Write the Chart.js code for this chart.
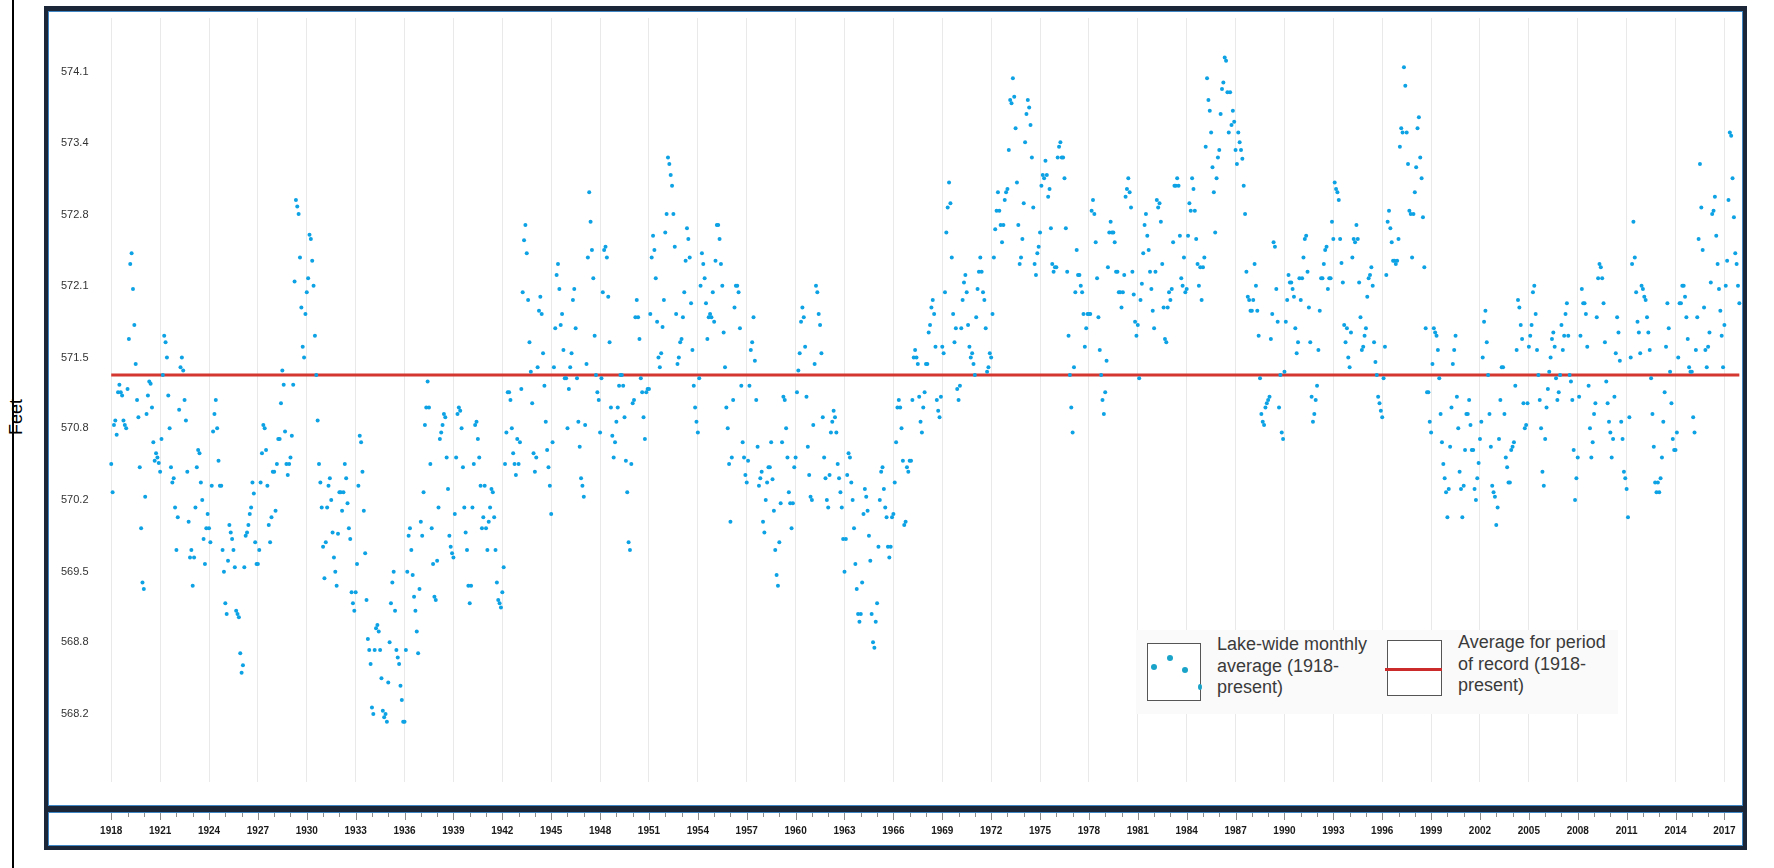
<!DOCTYPE html>
<html lang="en">
<head>
    <meta charset="UTF-8">
    <title>Lake Erie water levels</title>
    <script src="https://cdn.jsdelivr.net/npm/chart.js"></script>
    <style>
        body { margin: 0; width: 1774px; height: 868px; background: #fff; overflow: hidden; position: relative; font-family: Arial, "Liberation Sans", sans-serif; }
        #axisLine { position: absolute; left: 12px; top: 0; width: 2px; height: 868px; background: #000; }
        #yTitle { position: absolute; left: -9px; top: 406px; width: 50px; height: 22px; line-height: 22px; text-align: center; font-size: 18px; color: #000; transform: rotate(-90deg); }
        #chartBox { position: absolute; left: 44px; top: 6px; }
        #legend { position: absolute; left: 1136px; top: 630px; width: 482px; height: 84px; background: #fafafa; }
        .lgBox { position: absolute; box-sizing: border-box; border: 1.5px solid #555; background: #fff; }
        .lgDot { position: absolute; width: 6px; height: 6px; border-radius: 50%; background: #1aa3c9; }
        .lgText { position: absolute; font-size: 18px; line-height: 21.5px; color: #3a3a3a; white-space: nowrap; }
    </style>
</head>
<body>
    <div id="axisLine"></div>
    <div id="yTitle">Feet</div>
    <div id="chartBox"><canvas id="levelChart" width="1703" height="844"></canvas></div>

    <div id="legend"></div>
    <div class="lgBox" style="left:1147px; top:643px; width:54px; height:58px;"></div>
    <div class="lgDot" style="left:1151px; top:664px;"></div>
    <div class="lgDot" style="left:1167px; top:655px;"></div>
    <div class="lgDot" style="left:1182px; top:667px;"></div>
    <div class="lgDot" style="left:1198px; top:684px; width:4px;"></div>
    <div class="lgText" style="left:1217px; top:634px;">Lake-wide monthly<br>average (1918-<br>present)</div>
    <div class="lgBox" style="left:1387px; top:640px; width:55px; height:56px;"></div>
    <div style="position:absolute; left:1385px; top:668px; width:57px; height:3px; background:#cc2b2b;"></div>
    <div class="lgText" style="left:1458px; top:632px;">Average for period<br>of record (1918-<br>present)</div>

    <script>
        // monthly lake-wide levels in feet, one row per year, Jan..Dec
        const firstYear = 1918;
        const lastYear = 2017;
        const monthlyLevels = [
            570.54, 570.28, 570.90, 570.94, 570.81, 571.20, 571.27, 571.20, 571.17, 570.94, 570.90, 570.87, // 1918
            571.23, 571.69, 572.38, 572.48, 572.15, 571.82, 571.46, 571.13, 570.97, 570.51, 569.95, 569.45, // 1919
            569.39, 570.24, 571.00, 571.17, 571.30, 571.28, 571.06, 570.74, 570.57, 570.64, 570.60, 570.55, // 1920
            570.47, 570.77, 571.36, 571.72, 571.66, 571.52, 571.17, 570.87, 570.51, 570.37, 570.41, 570.14, // 1921
            569.75, 570.05, 571.04, 571.43, 571.52, 571.40, 571.13, 570.94, 570.47, 570.01, 569.68, 569.75, // 1922
            569.42, 569.68, 570.14, 570.51, 570.67, 570.64, 570.37, 570.21, 569.85, 569.62, 569.95, 570.08, // 1923
            569.95, 569.82, 570.34, 570.84, 571.00, 571.13, 570.87, 570.57, 570.34, 570.34, 569.75, 569.55, // 1924
            569.26, 569.16, 569.65, 569.98, 569.91, 569.85, 569.75, 569.59, 569.19, 569.16, 569.13, 568.80, // 1925
            568.62, 568.69, 569.59, 569.88, 569.91, 569.98, 570.08, 570.14, 570.37, 570.27, 569.82, 569.62, // 1926
            569.62, 569.75, 570.37, 570.64, 570.90, 570.87, 570.67, 570.34, 569.98, 569.82, 570.05, 570.47, // 1927
            570.47, 570.11, 570.54, 570.77, 570.77, 571.10, 571.40, 571.27, 570.84, 570.54, 570.44, 570.54, // 1928
            570.60, 570.80, 571.27, 572.22, 572.97, 572.91, 572.84, 572.44, 571.98, 571.62, 571.52, 571.92, // 1929
            572.12, 572.25, 572.65, 572.61, 572.41, 572.18, 571.72, 571.36, 570.94, 570.54, 570.37, 570.14, // 1930
            569.78, 569.49, 569.82, 570.14, 570.34, 570.41, 570.21, 569.91, 569.68, 569.55, 569.42, 569.90, // 1931
            570.28, 570.28, 570.11, 570.28, 570.54, 570.41, 570.18, 569.95, 569.85, 569.36, 569.26, 569.19, // 1932
            569.36, 569.62, 570.34, 570.80, 570.74, 570.47, 570.11, 569.72, 569.29, 568.93, 568.83, 568.70, // 1933
            568.30, 568.24, 568.83, 569.03, 569.06, 569.00, 568.83, 568.57, 568.27, 568.21, 568.24, 568.17, // 1934
            568.53, 568.90, 569.26, 569.45, 569.55, 569.19, 568.83, 568.76, 568.70, 568.50, 568.37, 568.17, // 1935
            568.17, 568.83, 569.55, 569.88, 569.95, 569.75, 569.52, 569.32, 569.19, 569.00, 568.80, 569.39, // 1936
            570.01, 569.88, 570.28, 570.90, 571.06, 571.30, 571.06, 570.54, 569.95, 569.62, 569.32, 569.29, // 1937
            569.65, 570.14, 570.77, 570.83, 570.90, 571.00, 570.97, 570.60, 570.31, 569.88, 569.78, 569.72, // 1938
            569.68, 570.08, 570.60, 571.00, 571.06, 571.03, 570.87, 570.51, 570.14, 569.91, 569.75, 569.42, // 1939
            569.26, 569.42, 570.14, 570.54, 570.90, 570.93, 570.77, 570.60, 570.34, 569.95, 570.05, 570.34, // 1940
            569.95, 569.75, 570.01, 570.14, 570.31, 570.28, 570.05, 569.75, 569.45, 569.29, 569.26, 569.22, // 1941
            569.36, 569.59, 570.54, 570.83, 571.20, 571.20, 571.13, 570.87, 570.64, 570.54, 570.44, 570.77, // 1942
            570.54, 570.74, 571.23, 572.12, 572.60, 572.74, 572.48, 572.05, 571.66, 571.39, 571.10, 570.64, // 1943
            570.47, 570.60, 571.43, 571.95, 572.08, 571.92, 571.56, 571.26, 570.93, 570.67, 570.51, 570.34, // 1944
            570.08, 570.74, 571.43, 571.79, 572.28, 572.38, 572.15, 571.82, 571.92, 571.59, 571.33, 571.33, // 1945
            570.87, 571.23, 571.43, 571.56, 572.05, 572.15, 571.79, 571.33, 570.93, 570.70, 570.41, 570.34, // 1946
            570.24, 570.90, 571.46, 572.44, 573.04, 572.77, 572.51, 572.25, 571.72, 571.36, 571.20, 571.13, // 1947
            570.83, 571.33, 572.12, 572.51, 572.54, 572.44, 572.08, 571.66, 571.06, 570.80, 570.60, 570.74, // 1948
            570.93, 571.06, 571.26, 571.36, 571.36, 571.26, 570.97, 570.57, 570.28, 569.82, 569.75, 570.54, // 1949
            571.10, 571.13, 571.89, 572.05, 571.89, 571.69, 571.33, 571.20, 570.97, 570.77, 571.20, 571.23, // 1950
            571.23, 571.92, 572.44, 572.64, 572.51, 572.25, 571.85, 571.52, 571.43, 571.56, 571.80, 572.05, // 1951
            572.67, 572.84, 573.36, 573.30, 573.20, 573.10, 572.84, 572.54, 571.92, 571.46, 571.52, 571.66, // 1952
            571.69, 571.89, 572.12, 572.41, 572.71, 572.61, 572.44, 572.02, 571.59, 571.26, 571.06, 570.93, // 1953
            570.83, 571.33, 572.18, 572.48, 572.38, 572.25, 572.02, 571.69, 571.89, 571.92, 571.89, 572.12, // 1954
            571.85, 572.41, 572.74, 572.74, 572.61, 572.38, 572.18, 571.75, 571.43, 571.06, 570.87, 570.54, // 1955
            570.01, 570.60, 571.13, 571.98, 572.18, 572.18, 572.12, 571.79, 571.26, 570.74, 570.60, 570.44, // 1956
            570.37, 570.57, 571.26, 571.59, 571.66, 571.89, 571.49, 571.13, 570.70, 570.34, 570.41, 570.47, // 1957
            570.01, 569.91, 570.21, 570.37, 570.51, 570.51, 570.74, 570.40, 570.11, 569.75, 569.52, 569.42, // 1958
            569.82, 570.18, 570.74, 571.16, 571.13, 570.87, 570.60, 570.28, 570.18, 569.95, 570.18, 570.51, // 1959
            570.60, 571.20, 571.40, 571.56, 571.85, 571.98, 571.89, 571.62, 571.16, 570.70, 570.44, 570.24, // 1960
            570.21, 570.90, 571.46, 572.18, 572.12, 571.92, 571.82, 571.56, 570.97, 570.60, 570.41, 570.21, // 1961
            570.14, 570.44, 570.83, 570.93, 571.03, 570.97, 570.83, 570.54, 570.41, 570.28, 570.14, 569.85, // 1962
            569.55, 569.85, 570.44, 570.64, 570.60, 570.37, 570.21, 569.95, 569.62, 569.39, 569.16, 569.09, // 1963
            569.16, 569.45, 570.08, 570.31, 570.24, 570.11, 569.88, 569.65, 569.16, 568.90, 568.85, 569.09, // 1964
            569.26, 569.78, 570.21, 570.47, 570.51, 570.31, 570.14, 570.05, 569.78, 569.68, 569.78, 570.05, // 1965
            570.08, 570.37, 570.74, 571.06, 571.13, 571.06, 570.87, 570.57, 569.98, 570.01, 570.51, 570.47, // 1966
            570.57, 570.57, 571.13, 571.52, 571.59, 571.52, 571.46, 571.16, 570.93, 570.83, 571.06, 571.20, // 1967
            571.46, 571.46, 571.75, 571.82, 571.98, 572.05, 571.92, 571.62, 571.13, 571.03, 570.97, 571.16, // 1968
            571.62, 571.56, 572.12, 572.67, 572.90, 573.13, 572.94, 572.44, 571.92, 571.66, 571.79, 571.23, // 1969
            571.13, 571.26, 571.79, 572.05, 572.21, 572.28, 572.12, 571.82, 571.62, 571.52, 571.56, 571.46, // 1970
            571.36, 571.89, 572.15, 572.31, 572.44, 572.31, 572.12, 572.05, 571.79, 571.39, 571.43, 571.56, // 1971
            571.52, 571.92, 572.44, 572.70, 572.87, 573.04, 572.87, 572.74, 572.58, 572.74, 572.97, 573.04, // 1972
            573.07, 573.43, 573.89, 573.86, 574.09, 573.92, 573.63, 573.13, 572.74, 572.38, 572.44, 572.61, // 1973
            572.94, 573.50, 573.76, 573.89, 573.82, 573.66, 573.36, 572.90, 572.38, 572.28, 572.48, 572.54, // 1974
            572.67, 573.10, 573.20, 573.17, 573.33, 573.20, 573.00, 573.07, 572.71, 572.38, 572.31, 572.35, // 1975
            572.35, 573.36, 573.46, 573.50, 573.36, 573.36, 573.17, 572.71, 572.31, 571.72, 571.36, 571.06, // 1976
            570.83, 571.43, 572.12, 572.51, 572.28, 572.28, 572.18, 572.12, 571.92, 571.62, 571.79, 571.92, // 1977
            571.92, 571.92, 572.87, 572.97, 572.84, 572.58, 572.25, 571.89, 571.59, 571.36, 571.13, 571.00, // 1978
            571.20, 571.49, 572.35, 572.67, 572.77, 572.67, 572.67, 572.58, 572.31, 572.31, 572.12, 572.12, // 1979
            571.98, 572.12, 572.28, 573.00, 573.07, 573.17, 573.04, 572.90, 572.31, 572.10, 571.85, 571.72, // 1980
            571.82, 571.33, 572.05, 572.20, 572.48, 572.74, 572.84, 572.64, 572.51, 572.31, 572.15, 571.95, // 1981
            571.79, 572.31, 572.97, 572.90, 572.94, 572.77, 572.38, 571.98, 571.69, 571.66, 571.98, 572.12, // 1982
            572.05, 572.15, 572.58, 573.10, 573.10, 573.17, 573.10, 572.64, 572.25, 572.18, 572.44, 572.12, // 1983
            572.15, 572.64, 572.94, 572.87, 573.17, 573.07, 572.87, 572.61, 572.38, 572.18, 572.35, 572.05, // 1984
            572.35, 572.44, 573.46, 574.09, 573.89, 573.79, 573.59, 573.27, 573.04, 572.67, 573.17, 573.36, // 1985
            573.43, 573.76, 573.99, 574.05, 574.28, 574.25, 573.96, 573.59, 573.96, 573.66, 573.79, 573.69, // 1986
            573.43, 573.30, 573.59, 573.50, 573.43, 573.35, 573.10, 572.84, 572.31, 572.08, 572.05, 571.95, // 1987
            571.95, 572.05, 572.38, 572.18, 571.95, 571.72, 571.33, 571.00, 570.93, 570.90, 571.06, 571.10, // 1988
            571.13, 571.16, 571.69, 571.92, 572.58, 572.54, 572.15, 571.85, 571.06, 571.36, 570.83, 570.77, // 1989
            571.39, 571.85, 572.05, 572.28, 572.21, 572.21, 572.15, 572.08, 571.79, 571.56, 571.66, 572.25, // 1990
            572.05, 572.25, 572.44, 572.61, 572.64, 572.31, 571.98, 571.66, 571.16, 570.93, 571.00, 571.13, // 1991
            571.26, 571.59, 571.95, 572.25, 572.25, 572.38, 572.51, 572.54, 572.15, 572.25, 572.25, 572.77, // 1992
            572.61, 573.13, 573.07, 573.04, 572.97, 572.61, 572.39, 572.21, 571.82, 571.66, 571.79, 571.52, // 1993
            571.43, 571.75, 572.44, 572.61, 572.58, 572.74, 572.61, 572.21, 571.89, 571.59, 571.62, 571.72, // 1994
            571.79, 572.08, 572.25, 572.28, 572.35, 572.18, 571.66, 571.48, 571.36, 571.16, 571.10, 571.03, // 1995
            570.97, 571.33, 571.62, 572.28, 572.77, 572.87, 572.71, 572.58, 572.41, 572.41, 572.38, 572.41, // 1996
            572.61, 573.46, 573.63, 573.59, 574.19, 574.02, 573.59, 573.30, 572.87, 572.84, 572.44, 572.84, // 1997
            573.04, 573.27, 573.63, 573.73, 573.36, 573.17, 572.81, 572.35, 571.79, 571.20, 571.20, 570.93, // 1998
            570.83, 571.46, 571.79, 571.75, 571.72, 571.59, 571.33, 571.00, 570.74, 570.54, 570.41, 570.28, // 1999
            570.05, 570.31, 570.70, 571.06, 571.46, 571.59, 571.72, 571.16, 570.87, 570.47, 570.31, 570.05, // 2000
            570.34, 570.67, 571.00, 571.00, 571.13, 570.90, 570.67, 570.67, 570.31, 570.21, 570.41, 570.55, // 2001
            570.77, 570.93, 571.52, 571.85, 571.95, 571.66, 571.36, 571.00, 570.70, 570.34, 570.28, 570.24, // 2002
            569.98, 570.14, 570.77, 571.13, 571.43, 571.43, 571.00, 570.60, 570.51, 570.37, 570.37, 570.67, // 2003
            570.70, 570.74, 571.26, 571.59, 572.05, 571.98, 571.82, 571.69, 571.10, 570.87, 570.90, 571.10, // 2004
            571.62, 571.72, 571.82, 572.12, 572.18, 571.92, 571.59, 571.36, 571.13, 570.87, 570.47, 570.34, // 2005
            570.77, 571.06, 571.23, 571.39, 571.52, 571.69, 571.75, 571.62, 571.33, 571.13, 571.20, 571.36, // 2006
            571.82, 571.59, 571.72, 571.92, 572.02, 571.72, 571.36, 571.30, 571.13, 570.67, 570.21, 570.41, // 2007
            570.60, 571.16, 571.72, 572.15, 572.02, 572.02, 571.92, 571.62, 571.26, 570.87, 570.60, 570.74, // 2008
            571.00, 571.10, 571.89, 572.25, 572.38, 572.35, 572.25, 572.02, 571.66, 571.30, 571.10, 570.93, // 2009
            570.83, 570.60, 570.77, 571.16, 571.56, 571.89, 571.75, 571.49, 570.93, 570.77, 570.47, 570.41, // 2010
            570.31, 570.05, 570.97, 571.52, 572.38, 572.77, 572.44, 572.12, 571.85, 571.75, 571.56, 572.18, // 2011
            572.15, 572.08, 572.05, 571.89, 571.75, 571.59, 571.33, 571.00, 570.70, 570.37, 570.28, 570.37, // 2012
            570.28, 570.41, 570.60, 570.93, 571.20, 571.62, 572.02, 571.79, 571.39, 571.10, 570.77, 570.67, // 2013
            570.67, 570.83, 571.52, 572.02, 572.02, 572.18, 572.18, 572.08, 571.89, 571.69, 571.43, 571.39, // 2014
            571.39, 570.97, 570.83, 571.59, 571.89, 572.61, 573.30, 572.90, 572.51, 571.98, 571.59, 571.43, // 2015
            571.62, 571.75, 572.21, 572.84, 572.87, 573.00, 572.64, 572.38, 572.15, 571.95, 571.72, 571.43, // 2016
            571.82, 572.18, 572.41, 572.97, 573.59, 573.56, 573.17, 572.81, 572.48, 572.38, 572.18, 572.02  // 2017
        ];
        const averageLevel = 571.36;

        const xTickLabels = ['1918', '1921', '1924', '1927', '1930', '1933', '1936', '1939', '1942', '1945',
            '1948', '1951', '1954', '1957', '1960', '1963', '1966', '1969', '1972', '1975', '1978', '1981',
            '1984', '1987', '1990', '1993', '1996', '1999', '2002', '2005', '2008', '2011', '2014', '2017'];
        // the axis steps are 0.2 m, labelled in feet
        const yTickLabels = ['568.2', '568.8', '569.5', '570.2', '570.8', '571.5', '572.1', '572.8', '573.4', '574.1'];
        const yTickFeet = [568.24, 568.90, 569.55, 570.21, 570.87, 571.52, 572.18, 572.83, 573.49, 574.15];

        const points = monthlyLevels.map((v, i) => ({ x: firstYear + i / 12, y: v }));
        const lastX = firstYear + (monthlyLevels.length - 1) / 12;

        const fontFamily = 'Arial, "Liberation Sans", sans-serif';

        // dark frame, white plot panel, separate axis band with yearly tick marks
        const framePlugin = {
            id: 'frame',
            beforeDraw(chart) {
                const c = chart.ctx;
                const w = chart.width, h = chart.height;
                c.save();
                c.fillStyle = '#1b2638';
                c.fillRect(0, 0, w, h);
                c.fillStyle = '#ffffff';
                c.fillRect(5, 6, w - 10, 793);
                c.fillRect(5, 807, w - 10, 32);
                c.strokeStyle = '#3f86c4';
                c.lineWidth = 1;
                c.strokeRect(4.5, 5.5, w - 9, 794);
                c.strokeRect(4.5, 806.5, w - 9, 33);
                c.restore();
            },
            afterDraw(chart) {
                const xs = chart.scales.x;
                const c = chart.ctx;
                c.save();
                c.strokeStyle = '#8c8c8c';
                c.lineWidth = 1;
                for (let yr = firstYear; yr <= lastYear; yr++) {
                    const px = Math.round(xs.getPixelForValue(yr)) + 0.5;
                    const long = (yr - firstYear) % 3 === 0;
                    c.beginPath();
                    c.moveTo(px, 807);
                    c.lineTo(px, long ? 814 : 811);
                    c.stroke();
                }
                c.restore();
            }
        };

        const ctx = document.getElementById('levelChart').getContext('2d');
        new Chart(ctx, {
            type: 'scatter',
            data: {
                datasets: [{
                    label: 'Lake-wide monthly average (1918-present)',
                    data: points,
                    pointRadius: 2,
                    pointHoverRadius: 2,
                    pointBorderWidth: 0,
                    pointBackgroundColor: '#0da2e4',
                    order: 0
                }, {
                    type: 'line',
                    label: 'Average for period of record (1918-present)',
                    data: [{ x: firstYear, y: averageLevel }, { x: lastX, y: averageLevel }],
                    borderColor: '#d4372f',
                    borderWidth: 3,
                    pointRadius: 0,
                    order: 1
                }]
            },
            options: {
                responsive: false,
                animation: false,
                layout: { padding: { left: 5, right: 5, top: 12, bottom: 13 } },
                plugins: { legend: { display: false }, tooltip: { enabled: false } },
                scales: {
                    x: {
                        type: 'linear',
                        min: 1914.18,
                        max: 2018.08,
                        afterBuildTicks: s => { s.ticks = xTickLabels.map(l => ({ value: Number(l) })); },
                        afterFit: s => { s.height = 55; s.paddingLeft = 0; s.paddingRight = 0; },
                        grid: { color: '#e9e9e9', drawTicks: false },
                        border: { display: false },
                        ticks: {
                            autoSkip: false,
                            maxRotation: 0,
                            padding: 43,
                            color: '#1a1a1a',
                            font: { family: fontFamily, size: 10, weight: 'bold' },
                            callback: v => String(v)
                        }
                    },
                    y: {
                        type: 'linear',
                        min: 567.615,
                        max: 574.644,
                        afterBuildTicks: s => { s.ticks = yTickFeet.map(v => ({ value: v })); },
                        afterFit: s => { s.width = 0; s.paddingTop = 0; s.paddingBottom = 0; },
                        grid: { display: false },
                        border: { display: false },
                        ticks: {
                            mirror: true,
                            padding: 12,
                            color: '#333333',
                            font: { family: fontFamily, size: 11 },
                            callback: (v, i) => yTickLabels[i]
                        }
                    }
                }
            },
            plugins: [framePlugin]
        });
    </script>
</body>
</html>
